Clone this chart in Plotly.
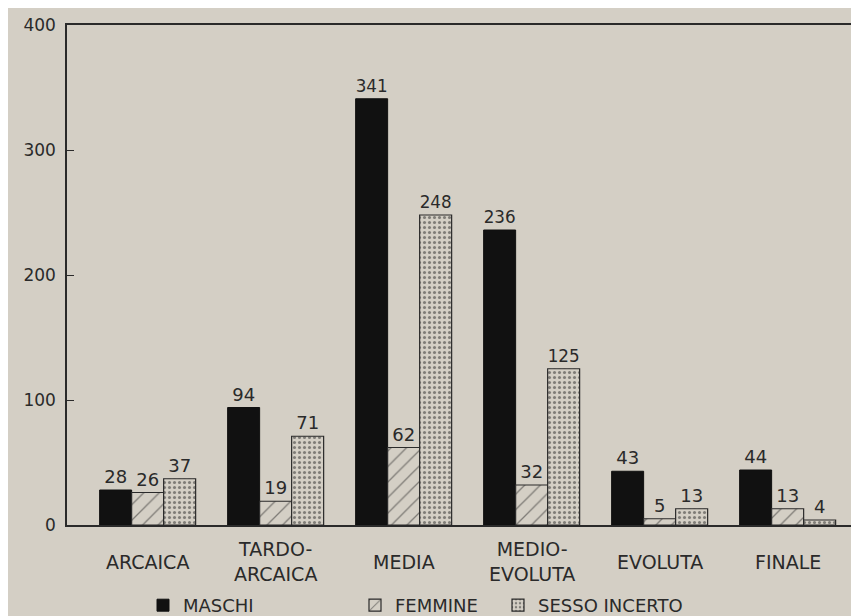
import plotly.graph_objects as go

# Reference data
periods = ['ARCAICA', 'TARDO-<br>ARCAICA', 'MEDIA', 'MEDIO-<br>EVOLUTA', 'EVOLUTA', 'FINALE']
maschi = [28, 94, 341, 236, 43, 44]
femmine = [26, 19, 62, 32, 5, 13]
incerto = [37, 71, 248, 125, 13, 4]
y_ticks = [0, 100, 200, 300, 400]

BG = '#d4cfc5'
INK = '#2a2a2a'
FONT = 'DejaVu Sans'

xs = list(range(len(periods)))

# page body has a small margin, so the figure is laid out in its own coords
W, H = 859, 616
plot_left, plot_top, plot_bot = 59, 17, 520
plot_w = W - plot_left
plot_h = plot_bot - plot_top

fig = go.Figure()
fig.add_trace(go.Bar(x=xs, y=maschi, name='MASCHI', legend='legend2',
                     marker=dict(color='#111111', line=dict(color='#111111', width=1)),
                     text=maschi, textposition='outside'))
fig.add_trace(go.Bar(x=xs, y=femmine, name='FEMMINE', legend='legend3',
                     marker=dict(color=BG, line=dict(color=INK, width=1.2),
                                 pattern=dict(shape='/', fgcolor=INK, bgcolor=BG,
                                              size=11, solidity=0.12)),
                     text=femmine, textposition='outside'))
fig.add_trace(go.Bar(x=xs, y=incerto, name='SESSO INCERTO', legend='legend4',
                     marker=dict(color=BG, line=dict(color=INK, width=1.2),
                                 pattern=dict(shape='.', fgcolor=INK, bgcolor=BG,
                                              size=5, solidity=0.3)),
                     text=incerto, textposition='outside'))

fig.update_traces(textfont=dict(family=FONT, size=18, color=INK), cliponaxis=False)

# category labels, centred vertically like the original lettering
for i, p in enumerate(periods):
    fig.add_annotation(x=i, y=(plot_bot - 557) / plot_h, xref='x', yref='paper',
                       text=p, showarrow=False, yanchor='middle',
                       font=dict(family=FONT, size=19, color=INK))

leg = dict(orientation='h', yanchor='middle', xanchor='left', bgcolor='rgba(0,0,0,0)',
           font=dict(family=FONT, size=18, color=INK))
ly = (plot_bot - 601) / plot_h
fig.update_layout(
    barmode='group', bargap=0.25, bargroupgap=0,
    width=W, height=H,
    margin=dict(l=plot_left, r=0, t=plot_top, b=H - plot_bot),
    paper_bgcolor=BG, plot_bgcolor=BG,
    showlegend=True,
    legend2=dict(leg, x=(135 - plot_left) / plot_w, y=ly),
    legend3=dict(leg, x=(347 - plot_left) / plot_w, y=ly),
    legend4=dict(leg, x=(490 - plot_left) / plot_w, y=ly),
    xaxis=dict(range=[-0.63, -0.63 + plot_w / 128], showticklabels=False, ticks='',
               showgrid=False, zeroline=False, showline=True, linecolor=INK,
               linewidth=1.5, mirror=True),
    yaxis=dict(range=[0, 400], tickvals=y_ticks, ticks='inside', ticklen=7, tickcolor=INK,
               showgrid=False, zeroline=False, showline=True, linecolor=INK, linewidth=1.5,
               ticklabelstandoff=6,
               tickfont=dict(family=FONT, size=17, color=INK)),
)

fig.write_html("out.html")
